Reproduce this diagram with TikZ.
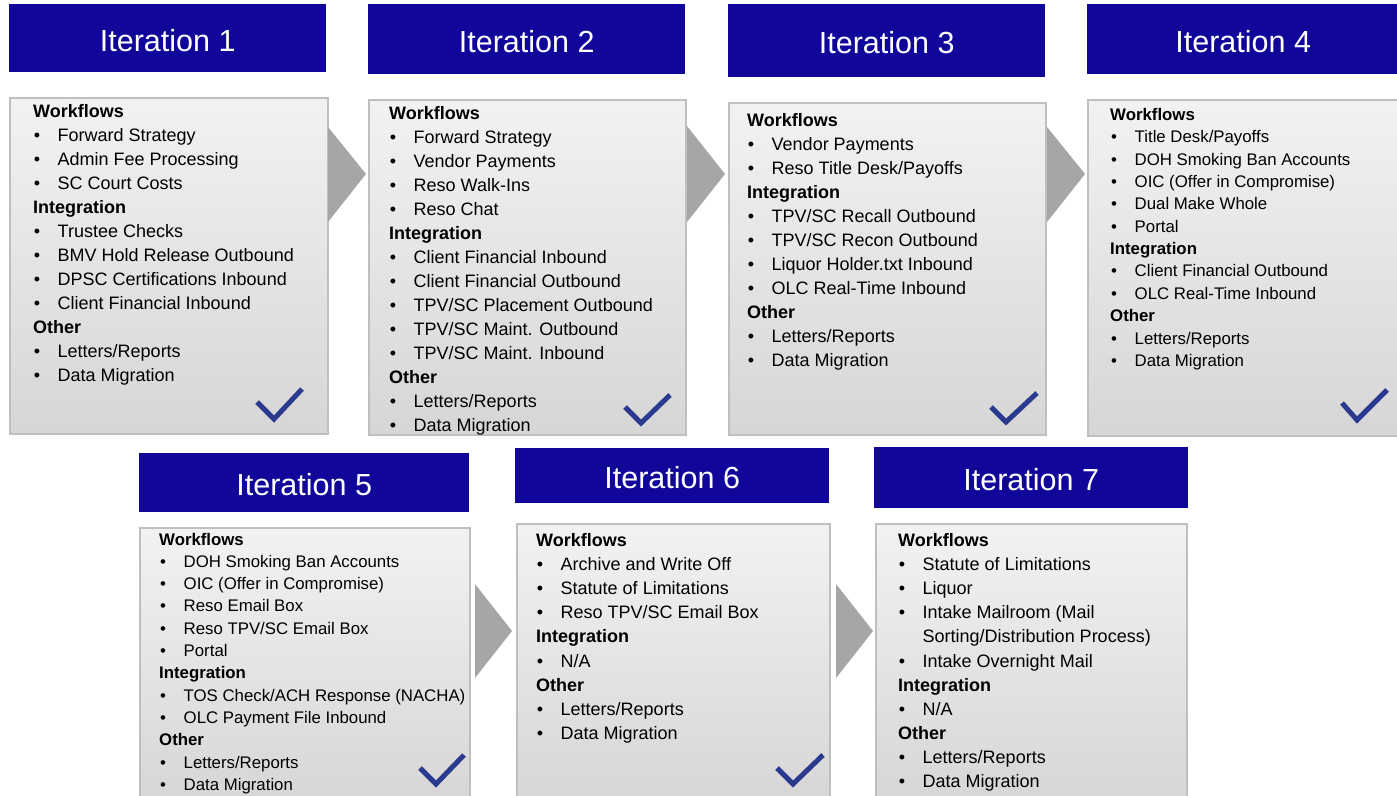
\documentclass[tikz,border=0pt]{standalone}
\usepackage{fontspec}
\setmainfont{Liberation Sans}
\definecolor{hdrblue}{HTML}{10069A}
\definecolor{checkblue}{HTML}{2B3A8F}
\definecolor{arrgray}{HTML}{A6A6A6}
\definecolor{panelline}{HTML}{BFBFBF}
\definecolor{paneltop}{HTML}{F2F2F2}
\definecolor{panelbot}{HTML}{D6D6D6}
\newcount\lcnt
\newcommand\setlist[5]{\gdef\lx{#1}\gdef\ly{#2}\gdef\ldy{#3}\gdef\lname{#4}\gdef\lfont{#5}\global\lcnt=0\relax}
\newcommand\Hd[1]{\node[lbl,font=\lfont\bfseries] (\lname-\the\lcnt) at (\lx,{\ly+\the\lcnt*\ldy}) {#1};\global\advance\lcnt by 1\relax}
\newcommand\It[1]{\node[lbl,anchor=base,font=\lfont] (\lname-d\the\lcnt) at ({\lx+4},{\ly+\the\lcnt*\ldy}) {•};\node[lbl,font=\lfont] (\lname-\the\lcnt) at ({\lx+24.5},{\ly+\the\lcnt*\ldy}) {#1};\global\advance\lcnt by 1\relax}
\newcommand\Ct[1]{\node[lbl,font=\lfont] (\lname-\the\lcnt) at ({\lx+24.5},{\ly+\the\lcnt*\ldy}) {#1};\global\advance\lcnt by 1\relax}
\newcommand\bigf{\fontsize{18}{24}\selectfont}
\newcommand\smallf{\fontsize{16.8}{22}\selectfont}
\begin{document}
\begin{tikzpicture}[x=1pt,y=-1pt,
  hdr/.style={fill=hdrblue,draw=none,anchor=north west,inner sep=0},
  hdrtext/.style={text=white,font=\fontsize{30.5}{36}\selectfont,inner sep=0},
  panel/.style={draw=panelline,line width=1.5pt,top color=paneltop,bottom color=panelbot,anchor=north west,inner sep=0},
  lbl/.style={anchor=base west,inner sep=0,text=black},
  arr/.style={fill=arrgray,draw=none},
  check/.style={draw=checkblue,line width=5pt,line cap=butt,line join=miter}]
\useasboundingbox (0,0) rectangle (1397,795);

% headers
\node[hdr,minimum width=317pt,minimum height=68pt] (h1) at (9,4) {};
\node[hdr,minimum width=317pt,minimum height=70pt] (h2) at (368,4) {};
\node[hdr,minimum width=317pt,minimum height=73pt] (h3) at (728,4) {};
\node[hdr,minimum width=312pt,minimum height=70pt] (h4) at (1087,4) {};
\node[hdr,minimum width=330pt,minimum height=59pt] (h5) at (139,453) {};
\node[hdr,minimum width=314pt,minimum height=55pt] (h6) at (515,448) {};
\node[hdr,minimum width=314pt,minimum height=61pt] (h7) at (874,447) {};
\foreach \n in {1,...,7}{
  \node[hdrtext] (h\n t) at ([yshift=-2pt]h\n.center) {Iteration \n};
}

% panels
\node[panel,minimum width=318pt,minimum height=336pt] (b1) at (9,97) {};
\node[panel,minimum width=317pt,minimum height=335pt] (b2) at (368,99) {};
\node[panel,minimum width=317pt,minimum height=332pt] (b3) at (728,102) {};
\node[panel,minimum width=314pt,minimum height=336pt] (b4) at (1087,99) {};
\node[panel,minimum width=330pt,minimum height=275pt] (b5) at (139,527) {};
\node[panel,minimum width=313pt,minimum height=279pt] (b6) at (516,523) {};
\node[panel,minimum width=311pt,minimum height=279pt] (b7) at (875,523) {};

% chevrons
\fill[arr] (328,127) -- (366,174) -- (328,222) -- cycle;
\fill[arr] (687,126) -- (725,174) -- (687,222) -- cycle;
\fill[arr] (1047,127) -- (1085,174) -- (1047,222) -- cycle;
\fill[arr] (475,584) -- (512,631) -- (475,678) -- cycle;
\fill[arr] (836,584) -- (873,631) -- (836,678) -- cycle;

% checks
\draw[check] (257,402) -- (274,419) -- (302,389);
\draw[check] (625,407) -- (641,423) -- (670,395);
\draw[check] (991,407) -- (1006,422) -- (1037,393);
\draw[check] (1342,403) -- (1357,420) -- (1387,390);
\draw[check] (420,768) -- (436,784) -- (464,755);
\draw[check] (777,768) -- (793,784) -- (823,755);

% box 1
\setlist{33}{117.5}{24}{L1}{\bigf}
\Hd{Workflows}
\It{Forward Strategy}
\It{Admin Fee Processing}
\It{SC Court Costs}
\Hd{Integration}
\It{Trustee Checks}
\It{BMV Hold Release Outbound}
\It{DPSC Certifications Inbound}
\It{Client Financial Inbound}
\Hd{Other}
\It{Letters/Reports}
\It{Data Migration}

% box 2
\setlist{389}{119.5}{24}{L2}{\bigf}
\Hd{Workflows}
\It{Forward Strategy}
\It{Vendor Payments}
\It{Reso Walk-Ins}
\It{Reso Chat}
\Hd{Integration}
\It{Client Financial Inbound}
\It{Client Financial Outbound}
\It{TPV/SC Placement Outbound}
\It{TPV/SC Maint. Outbound}
\It{TPV/SC Maint. Inbound}
\Hd{Other}
\It{Letters/Reports}
\It{Data Migration}

% box 3
\setlist{747}{126}{24}{L3}{\bigf}
\Hd{Workflows}
\It{Vendor Payments}
\It{Reso Title Desk/Payoffs}
\Hd{Integration}
\It{TPV/SC Recall Outbound}
\It{TPV/SC Recon Outbound}
\It{Liquor Holder.txt Inbound}
\It{OLC Real-Time Inbound}
\Hd{Other}
\It{Letters/Reports}
\It{Data Migration}

% box 4
\setlist{1110}{120.5}{22.35}{L4}{\smallf}
\Hd{Workflows}
\It{Title Desk/Payoffs}
\It{DOH Smoking Ban Accounts}
\It{OIC (Offer in Compromise)}
\It{Dual Make Whole}
\It{Portal}
\Hd{Integration}
\It{Client Financial Outbound}
\It{OLC Real-Time Inbound}
\Hd{Other}
\It{Letters/Reports}
\It{Data Migration}

% box 5
\setlist{159}{545}{22.3}{L5}{\smallf}
\Hd{Workflows}
\It{DOH Smoking Ban Accounts}
\It{OIC (Offer in Compromise)}
\It{Reso Email Box}
\It{Reso TPV/SC Email Box}
\It{Portal}
\Hd{Integration}
\It{TOS Check/ACH Response (NACHA)}
\It{OLC Payment File Inbound}
\Hd{Other}
\It{Letters/Reports}
\It{Data Migration}

% box 6
\setlist{536}{546.5}{24.1}{L6}{\bigf}
\Hd{Workflows}
\It{Archive and Write Off}
\It{Statute of Limitations}
\It{Reso TPV/SC Email Box}
\Hd{Integration}
\It{N/A}
\Hd{Other}
\It{Letters/Reports}
\It{Data Migration}

% box 7
\setlist{898}{546.7}{24.06}{L7}{\bigf}
\Hd{Workflows}
\It{Statute of Limitations}
\It{Liquor}
\It{Intake Mailroom (Mail}
\Ct{Sorting/Distribution Process)}
\It{Intake Overnight Mail}
\Hd{Integration}
\It{N/A}
\Hd{Other}
\It{Letters/Reports}
\It{Data Migration}
\end{tikzpicture}
\end{document}
